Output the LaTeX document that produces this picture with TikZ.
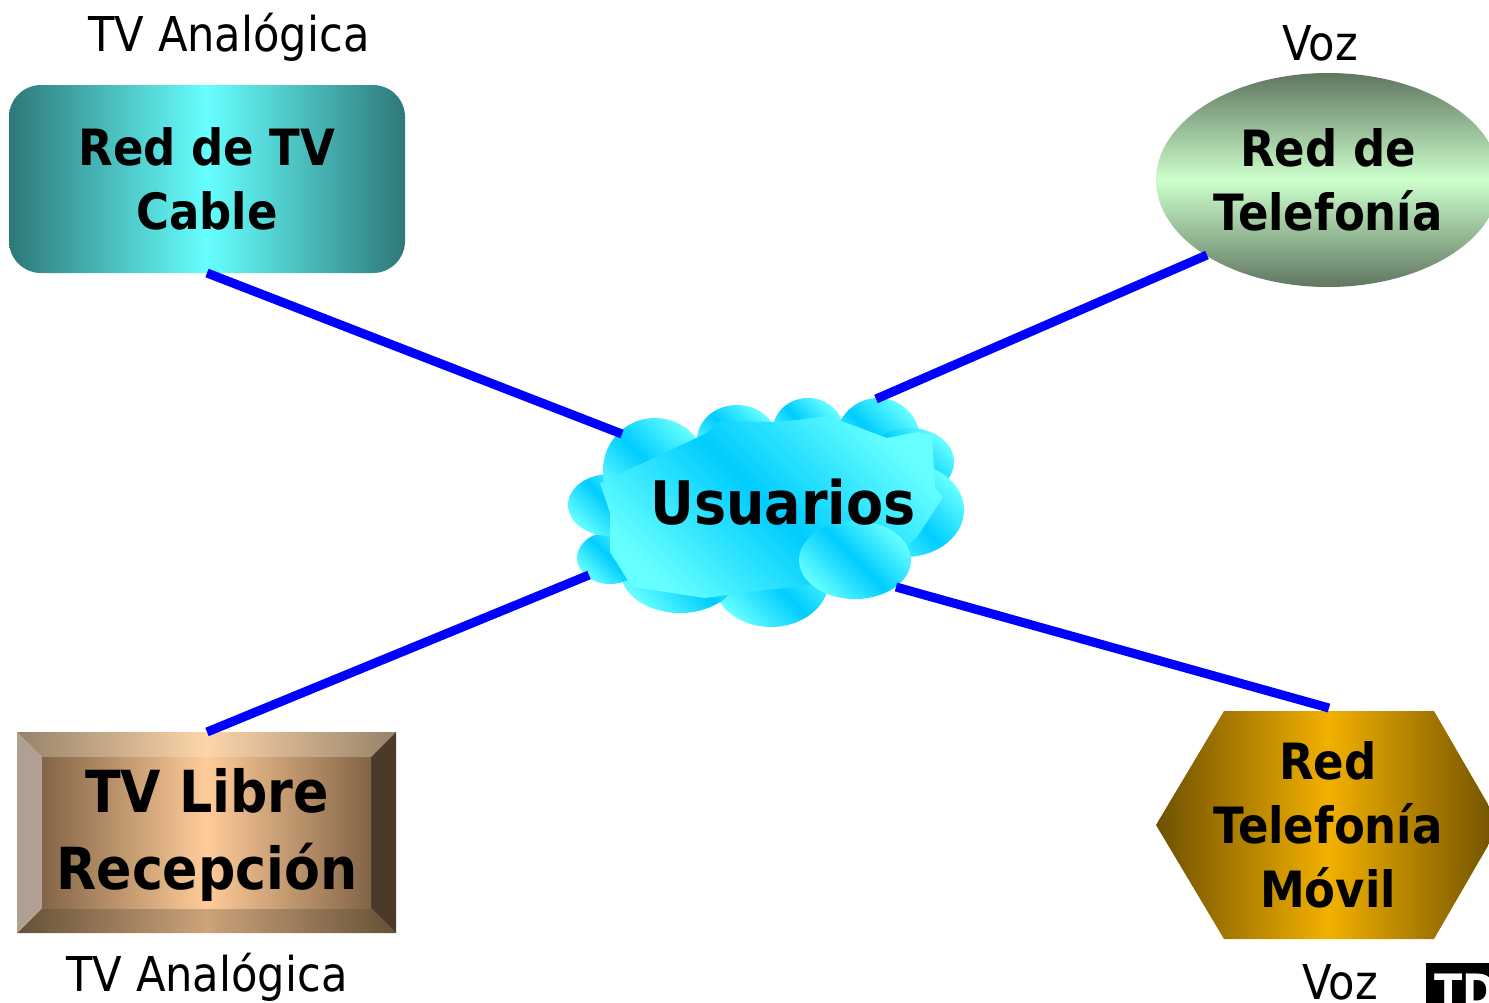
\documentclass[tikz,border=0pt]{standalone}
\usepackage{fontspec}
\setmainfont{DejaVu Sans}[FakeStretch=0.9]
\usetikzlibrary{shapes.geometric}
\definecolor{teald}{RGB}{46,120,120}
\definecolor{cyanl}{RGB}{102,255,255}
\definecolor{deepc}{RGB}{0,204,255}
\definecolor{lined}{RGB}{0,0,255}
\definecolor{gread}{RGB}{96,118,96}
\definecolor{grel}{RGB}{204,255,204}
\definecolor{golda}{RGB}{110,80,0}
\definecolor{goldb}{RGB}{242,176,0}
\definecolor{bevA}{RGB}{150,130,105}
\definecolor{bevB}{RGB}{253,213,170}
\definecolor{bevC}{RGB}{130,100,70}
\definecolor{bevD}{RGB}{255,204,153}
\definecolor{bevE}{RGB}{100,80,55}
\definecolor{bevF}{RGB}{204,163,122}
\definecolor{bevG}{RGB}{175,160,145}
\definecolor{bevH}{RGB}{75,58,42}
\tikzset{
  lobe/.style={top color=cyanl,bottom color=cyanl,middle color=deepc,shading angle=-45},
  conn/.style={draw=lined,line width=9pt},
  boxtext/.style={font=\bfseries\fontsize{50}{64}\selectfont,align=center,text=black,inner sep=0pt,outer sep=0pt},
  plain/.style={font=\fontsize{48}{58}\selectfont,text=black,inner sep=0pt,outer sep=0pt,anchor=base}
}
\begin{document}
\begin{tikzpicture}[x=1pt,y=-1pt]
\useasboundingbox (0,0) rectangle (1489,1002);
\clip (0,0) rectangle (1489,1002);
% Red de TV Cable
\node[boxtext,rectangle,rounded corners=32pt,minimum width=396pt,minimum height=188pt,
  left color=teald,right color=teald,middle color=cyanl] (cable) at (207,179) {Red de TV\\Cable};
% Red de Telefonia
\node[boxtext,ellipse,minimum width=344pt,minimum height=214pt,
  top color=gread,bottom color=gread,middle color=grel] (tel) at (1328,180) {Red de\\Telefonía};
% Movil
\path[left color=golda,right color=golda,middle color=goldb]
  (1224,711)--(1434,711)--(1500,825)--(1434,939)--(1224,939)--(1156,825)--cycle;
\node[boxtext,rectangle,minimum width=344pt,minimum height=228pt] (movil) at (1328,825) {Red\\Telefonía\\Móvil};
% Bevel
\path[left color=bevA,right color=bevA,middle color=bevB] (17,732)--(396,732)--(371,757)--(42,757)--cycle;
\path[left color=bevE,right color=bevE,middle color=bevF] (17,933)--(396,933)--(371,908)--(42,908)--cycle;
\path[fill=bevG] (17,732)--(42,757)--(42,908)--(17,933)--cycle;
\path[fill=bevH] (396,732)--(371,757)--(371,908)--(396,933)--cycle;
\node[rectangle,inner sep=0pt,outer sep=0pt,minimum width=329pt,minimum height=151pt,
  left color=bevC,right color=bevC,middle color=bevD] (libreface) at (206.5,832.5) {};
\node[boxtext,rectangle,font=\bfseries\fontsize{58}{77}\selectfont] (libre) at (207,835) {TV Libre\\Recepción};
% Cloud
\path[lobe] (737,440) ellipse [x radius=40,y radius=35];
\path[lobe] (808,430) ellipse [x radius=35,y radius=32];
\path[lobe] (878,440) ellipse [x radius=42,y radius=42];
\path[lobe] (910,462) ellipse [x radius=44,y radius=34];
\path[lobe] (905,510) ellipse [x radius=59,y radius=47];
\path[lobe] (771,580) ellipse [x radius=58,y radius=47];
\path[lobe] (680,570) ellipse [x radius=60,y radius=43];
\path[lobe] (610,558) ellipse [x radius=33,y radius=26];
\path[lobe] (610,505) ellipse [x radius=42,y radius=31];
\path[lobe] (655,470) ellipse [x radius=52,y radius=52];
\path[lobe] (600,483)--(707,433)--(720,421)--(780,422)--(828,416)--(887,438)--(917,432)--(932,435)--(935,488)--(943,497)--(917,537)
  --(862,582)--(838,582)--(750,592)--(705,598)--(632,587)--(610,552)--(610,513)--cycle;
\path[lobe] (855,560) ellipse [x radius=56,y radius=39];
\node[boxtext,font=\bfseries\fontsize{60}{70}\selectfont] (usuarios) at (783,502) {Usuarios};
% Plain labels
\node[plain] (ana1) at (229,51) {TV Analógica};
\node[plain] (voz1) at (1320,60) {Voz};
\node[plain] (ana2) at (207,991) {TV Analógica};
\node[plain] (voz2) at (1340,999) {Voz};
% Logo
\node[rectangle,fill=black,inner sep=0pt,outer sep=0pt,minimum width=70pt,minimum height=45pt,anchor=north west] (logo) at (1426,963) {};
\node[font=\bfseries\fontsize{46}{46}\selectfont,text=white,inner sep=0pt,anchor=base west] (logot) at (1434,1007) {TD};
% Connector ends
\coordinate (cn1) at (622,434);
\coordinate (cn2) at (876,399);
\coordinate (cn3) at (589,575);
\coordinate (cn4) at (896,587);
\coordinate (e1) at (1207,255);
\draw[conn] (cable.south) -- (cn1);
\draw[conn] (e1) -- (cn2);
\draw[conn] (207,732) -- (cn3);
\draw[conn] (movil.north) ++(1,-3) -- (cn4);
\end{tikzpicture}
\end{document}
